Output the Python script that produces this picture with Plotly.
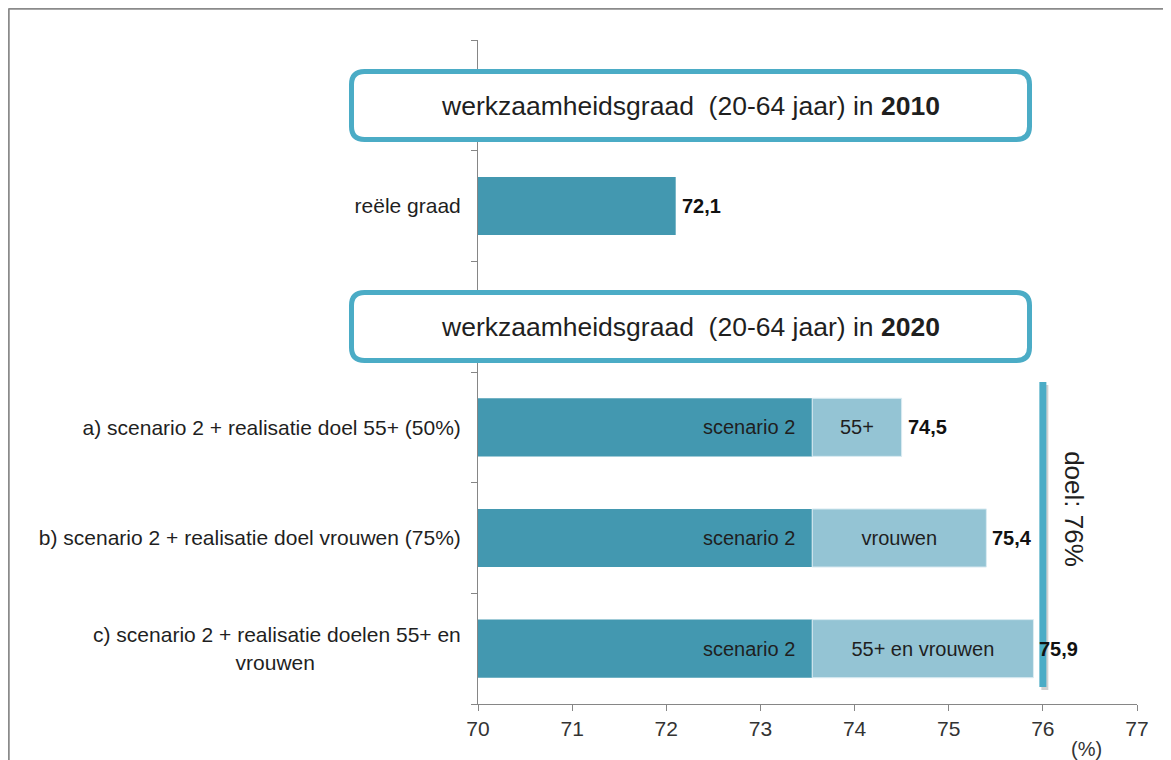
import plotly.graph_objects as go

# ---------------- data ----------------
categories = [
    "kop 2010",
    "reële graad",
    "kop 2020",
    "a) scenario 2 + realisatie doel 55+ (50%)",
    "b) scenario 2 + realisatie doel vrouwen (75%)",
    "c) scenario 2 + realisatie doelen 55+ en vrouwen",
]
NB = "\u00a0"
tick_labels = [
    "",
    "reële graad",
    "",
    "a) scenario 2 + realisatie doel 55+ (50%)",
    "b) scenario 2 + realisatie doel vrouwen (75%)",
    "c) scenario 2 + realisatie doelen 55+ en<br>vrouwen" + NB * 25,
]
axis_start = 70
reeel_2010 = 72.1
scenario2_2020 = 73.55
totals_2020 = [74.5, 75.4, 75.9]
extra_labels = ["55+", "vrouwen", "55+ en vrouwen"]
scenario_label = "scenario 2"
goal = 76
goal_label = "doel: 76%"
header_years = ["2010", "2020"]
header_text = "werkzaamheidsgraad" + NB * 2 + "(20-64 jaar) in <b>{}</b>"
x_ticks = [70, 71, 72, 73, 74, 75, 76, 77]
unit_label = "(%)"

# ---------------- style ----------------
DARK = "#4398B0"
LIGHT = "#94C4D4"
ACCENT = "#4BACC6"
AXIS = "#868686"
TXT = "#1f1f1f"
FONT = "Liberation Sans, Arial, sans-serif"

OFF = 8  # page body margin
W, H = 1171 - OFF, 760 - OFF
L, T = 478 - OFF, 40 - OFF
PLOT_R, PLOT_B = 1137 - OFF, 704 - OFF
R, B = W - PLOT_R, H - PLOT_B
PW, PH = PLOT_R - L, PLOT_B - T


def px_x(p):  # screen px -> paper
    return (p - OFF - L) / PW


def px_y(p):
    return (PLOT_B - (p - OFF)) / PH


def fmt(v):
    return f"{v:.1f}".replace(".", ",")


scen_rows = categories[3:6]

dark_x = [None, reeel_2010 - axis_start, None] + [scenario2_2020 - axis_start] * 3
light_x = [t - scenario2_2020 for t in totals_2020]

fig = go.Figure()
fig.add_trace(go.Bar(
    y=categories, x=dark_x, base=axis_start, orientation="h",
    marker=dict(color=DARK, line=dict(width=0)), width=0.525,
    hoverinfo="skip", showlegend=False,
))
fig.add_trace(go.Bar(
    y=scen_rows, x=light_x, base=scenario2_2020, orientation="h",
    marker=dict(color=LIGHT, line=dict(width=1, color="#dbecf2")), width=0.525,
    text=extra_labels, textposition="inside", insidetextanchor="middle",
    textfont=dict(family=FONT, size=20, color=TXT), constraintext="none",
    hoverinfo="skip", showlegend=False,
))

annotations = []
for c in scen_rows:
    annotations.append(dict(
        x=scenario2_2020, y=c, xref="x", yref="y", text=scenario_label,
        xanchor="right", yanchor="middle", xshift=-15, showarrow=False,
        font=dict(family=FONT, size=20, color=TXT),
    ))
for c, v in [(categories[1], reeel_2010)] + list(zip(scen_rows, totals_2020)):
    annotations.append(dict(
        x=v, y=c, xref="x", yref="y", text=f"<b>{fmt(v)}</b>",
        xanchor="left", yanchor="middle", xshift=4,
        showarrow=False, font=dict(family=FONT, size=20, color="#111111"),
    ))
box_px = [(351.5, 71.5, 1029.5, 139.5), (351.5, 292.5, 1029.5, 360.5)]
for (x0, y0, x1, y1), yr in zip(box_px, header_years):
    annotations.append(dict(
        x=px_x((x0 + x1) / 2), y=px_y((y0 + y1) / 2), xref="paper", yref="paper",
        text=header_text.format(yr), showarrow=False, xanchor="center", yanchor="middle",
        font=dict(family=FONT, size=26.5, color=TXT),
    ))
annotations.append(dict(
    x=goal, y=px_y(509), xref="x", yref="paper", text=goal_label, textangle=90,
    xshift=31, showarrow=False, xanchor="center", yanchor="middle",
    font=dict(family=FONT, size=26, color=TXT),
))
annotations.append(dict(
    x=px_x(1086), y=px_y(749), xref="paper", yref="paper", text=unit_label,
    showarrow=False, xanchor="center", yanchor="middle",
    font=dict(family=FONT, size=20, color="#333333"),
))


def rounded_rect(x0, y0, x1, y1, r):
    def P(x, y):
        return f"{px_x(x):.5f},{px_y(y):.5f}"
    return " ".join([
        f"M {P(x0 + r, y0)}", f"L {P(x1 - r, y0)}", f"Q {P(x1, y0)} {P(x1, y0 + r)}",
        f"L {P(x1, y1 - r)}", f"Q {P(x1, y1)} {P(x1 - r, y1)}",
        f"L {P(x0 + r, y1)}", f"Q {P(x0, y1)} {P(x0, y1 - r)}",
        f"L {P(x0, y0 + r)}", f"Q {P(x0, y0)} {P(x0 + r, y0)} Z",
    ])


shapes = []
# outer frame (top and left edges)
shapes.append(dict(type="line", xref="paper", yref="paper", x0=px_x(8.5), x1=px_x(1180),
                   y0=px_y(8.5), y1=px_y(8.5), line=dict(color="#8a8a8a", width=2.5), layer="above"))
shapes.append(dict(type="line", xref="paper", yref="paper", x0=px_x(8.5), x1=px_x(8.5),
                   y0=px_y(8.5), y1=px_y(780), line=dict(color="#8a8a8a", width=2.5), layer="above"))
for (x0, y0, x1, y1) in box_px:
    shapes.append(dict(type="path", xref="paper", yref="paper",
                       path=rounded_rect(x0, y0, x1, y1, 13),
                       fillcolor="white", line=dict(color=ACCENT, width=5), layer="above"))
shapes.append(dict(type="line", xref="x", yref="paper", xsizemode="pixel", xanchor=goal,
                   x0=2, x1=2, y0=px_y(690), y1=px_y(385),
                   line=dict(color="rgba(0,0,0,0.18)", width=7), layer="above"))
shapes.append(dict(type="line", xref="x", yref="paper", x0=goal, x1=goal,
                   y0=px_y(687), y1=px_y(382),
                   line=dict(color=ACCENT, width=7), layer="above"))

fig.update_layout(
    width=W, height=H, autosize=False,
    margin=dict(l=L, r=R, t=T, b=B, pad=0),
    paper_bgcolor="white", plot_bgcolor="white",
    barmode="overlay",
    font=dict(family=FONT, color=TXT),
    annotations=annotations, shapes=shapes,
    xaxis=dict(
        range=[x_ticks[0], x_ticks[-1]], tickmode="array", tickvals=x_ticks,
        ticktext=[str(t) for t in x_ticks],
        showgrid=False, zeroline=False, showline=True, linecolor=AXIS, linewidth=1,
        ticks="outside", ticklen=6, tickcolor=AXIS, tickwidth=1,
        tickfont=dict(family=FONT, size=21, color="#333333"),
        fixedrange=True,
    ),
    yaxis=dict(
        type="category", categoryorder="array", categoryarray=categories,
        tickmode="array", tickvals=categories, ticktext=tick_labels,
        autorange="reversed", tickson="boundaries",
        showgrid=False, zeroline=False, showline=True, linecolor=AXIS, linewidth=1,
        ticks="outside", ticklen=6, tickcolor=AXIS, tickwidth=1,
        ticklabelstandoff=12,
        tickfont=dict(family=FONT, size=21, color=TXT),
        fixedrange=True,
    ),
)

fig.write_html("out.html")
